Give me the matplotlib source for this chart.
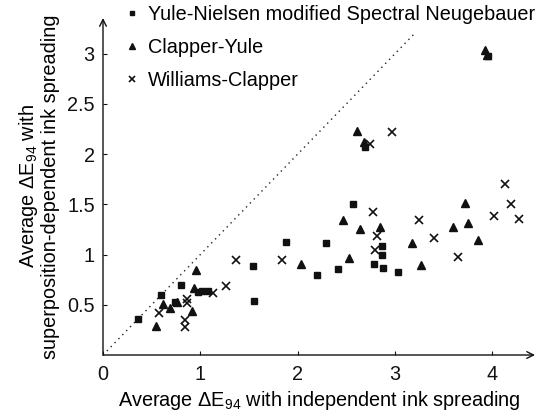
import matplotlib
matplotlib.use("Agg")
import matplotlib.pyplot as plt

plt.rcParams['font.family'] = ['Liberation Sans', 'DejaVu Sans']
plt.rcParams['mathtext.fontset'] = 'custom'
plt.rcParams['mathtext.rm'] = 'Liberation Sans'
plt.rcParams['mathtext.it'] = 'Liberation Sans'

# Yule-Nielsen modified Spectral Neugebauer (squares)
ynsn_x = [0.363, 0.596, 0.737, 0.80, 0.98, 1.02, 1.08, 1.537, 1.555, 1.88, 2.20, 2.29,
          2.42, 2.57, 2.69, 2.79, 2.87, 2.87, 2.88, 3.03, 3.96]
ynsn_y = [0.36, 0.595, 0.53, 0.70, 0.63, 0.64, 0.64, 0.89, 0.54, 1.13, 0.80, 1.12,
          0.857, 1.50, 2.07, 0.906, 1.09, 1.00, 0.866, 0.827, 2.98]

# Clapper-Yule (triangles)
cy_x = [0.545, 0.617, 0.69, 0.757, 0.918, 0.935, 0.956, 2.04, 2.47, 2.53, 2.607, 2.64,
        2.68, 2.85, 3.18, 3.27, 3.60, 3.72, 3.755, 3.85, 3.93, 3.95]
cy_y = [0.29, 0.505, 0.47, 0.53, 0.44, 0.67, 0.847, 0.906, 1.345, 0.97, 2.23, 1.25,
        2.12, 1.275, 1.12, 0.896, 1.27, 1.51, 1.315, 1.15, 3.04, 2.99]

# Williams-Clapper (crosses)
wc_x = [0.575, 0.843, 0.843, 0.863, 0.863, 1.134, 1.267, 1.37, 1.84, 2.74, 2.77, 2.80,
        2.82, 2.967, 3.25, 3.40, 3.65, 4.02, 4.13, 4.19, 4.28]
wc_y = [0.42, 0.35, 0.28, 0.555, 0.52, 0.62, 0.687, 0.946, 0.946, 2.10, 1.42, 1.045,
        1.185, 2.22, 1.34, 1.17, 0.98, 1.385, 1.70, 1.50, 1.355]

diag = [0, 3.2]
x_ticks = [0, 1, 2, 3, 4]
y_ticks = [0.5, 1, 1.5, 2, 2.5, 3]
y_tick_labels = ['0.5', '1', '1.5', '2', '2.5', '3']

W, H = 539, 418
fig = plt.figure(figsize=(W / 100, H / 100), dpi=100)
ax = fig.add_axes([103 / W, (H - 355) / H, 432 / W, 337 / H])
ax.set_xlim(0, 432 / 97.3)
ax.set_ylim(0, 337 / 100.4)

col = '#111111'
FS = 14.3
ax.plot(diag, diag, linestyle=(0, (1, 3)), color='#222222', linewidth=1.0, zorder=1)
ax.plot(ynsn_x, ynsn_y, 's', color=col, markersize=4.6, linestyle='none',
        label='Yule-Nielsen modified Spectral Neugebauer', zorder=3)
ax.plot(cy_x, cy_y, '^', color=col, markersize=5.6, linestyle='none',
        label='Clapper-Yule', zorder=3)
ax.plot(wc_x, wc_y, 'x', color=col, markersize=5.3, markeredgewidth=1.2,
        linestyle='none', label='Williams-Clapper', zorder=3)

for s in ax.spines.values():
    s.set_visible(False)
# arrow axes
ax.annotate('', xy=(1.0, 0), xytext=(0, 0), xycoords='axes fraction',
            arrowprops=dict(arrowstyle='->', color='#111111', lw=1.0,
                            shrinkA=0, shrinkB=0, mutation_scale=12))
ax.annotate('', xy=(0, 1.0), xytext=(0, 0), xycoords='axes fraction',
            arrowprops=dict(arrowstyle='->', color='#111111', lw=1.0,
                            shrinkA=0, shrinkB=0, mutation_scale=12))

ax.set_xticks(x_ticks)
ax.set_xticklabels([str(t) for t in x_ticks])
ax.set_yticks(y_ticks)
ax.set_yticklabels(y_tick_labels)
ax.tick_params(direction='in', length=3, width=0.8, labelsize=FS, colors='#111111')
ax.tick_params(axis='x', pad=7)
ax.tick_params(axis='y', pad=6)

ax.set_xlabel('Average $\\Delta$E$_{94}$ with independent ink spreading', fontsize=FS,
              labelpad=4)
ax.set_ylabel('Average $\\Delta$E$_{94}$ with\nsuperposition-dependent ink spreading',
              fontsize=FS, labelpad=5, linespacing=1.05)

leg = ax.legend(loc='upper left', bbox_to_anchor=(0.035, 1.063), frameon=False,
                fontsize=FS, markerscale=0.75, handlelength=0.6, handletextpad=0.5,
                labelspacing=0.72, borderaxespad=0)

fig.savefig('out.png', dpi=100)
